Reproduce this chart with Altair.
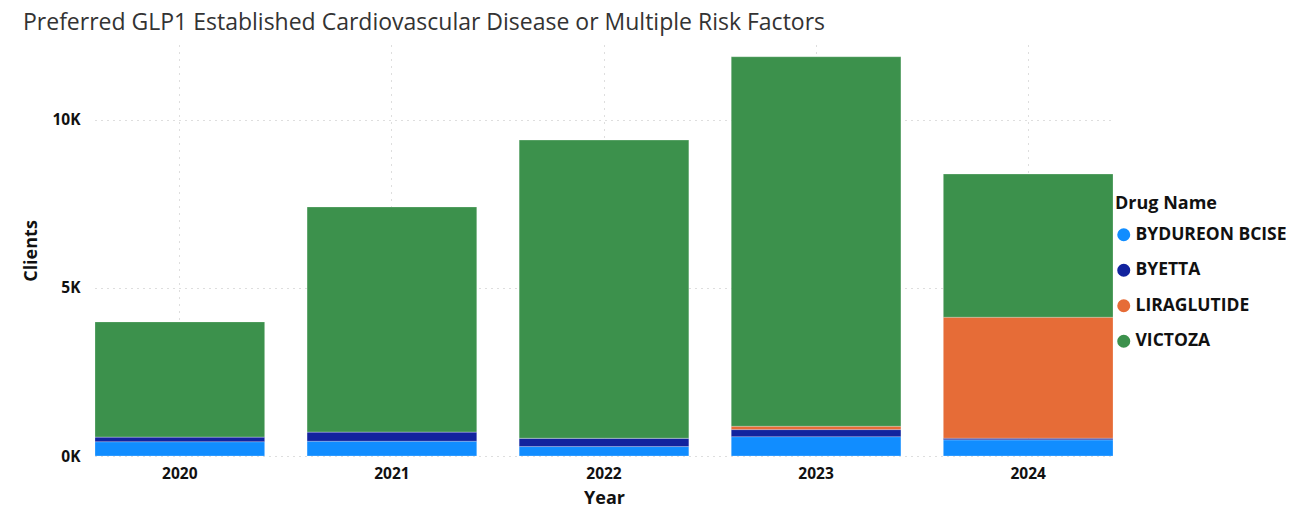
import altair as alt
import pandas as pd

years = ["2020", "2021", "2022", "2023", "2024"]
drugs = ["BYDUREON BCISE", "BYETTA", "LIRAGLUTIDE", "VICTOZA"]
colors = ["#118DFF", "#12239E", "#E66C37", "#3C914C"]

bydureon = [425, 440, 280, 575, 480]
byetta = [140, 275, 250, 210, 50]
liraglutide = [0, 0, 0, 100, 3600]
victoza = [3425, 6695, 8870, 10995, 4260]

series = {
    "BYDUREON BCISE": bydureon,
    "BYETTA": byetta,
    "LIRAGLUTIDE": liraglutide,
    "VICTOZA": victoza,
}

rows = []
for i, d in enumerate(drugs):
    for j, y in enumerate(years):
        rows.append({"Year": y, "Drug Name": d, "Clients": series[d][j], "ord": i})
df = pd.DataFrame(rows)

label_font = "Open Sans"

chart = (
    alt.Chart(df)
    .mark_bar(stroke="white", strokeWidth=0.4, strokeOpacity=0.6)
    .encode(
        x=alt.X(
            "Year:N",
            sort=years,
            scale=alt.Scale(paddingInner=0.2, paddingOuter=0),
            axis=alt.Axis(
                title="Year",
                labelAngle=0,
                labelFont=label_font,
                labelFontWeight="bold",
                labelFontSize=15.5,
                labelColor="#111111",
                labelPadding=10,
                titleFont=label_font,
                titleFontWeight="bold",
                titleFontSize=18,
                titleColor="#111111",
                titlePadding=8,
                domain=False,
                ticks=False,
                grid=True,
                bandPosition=0.5,
                gridDash=[1, 6],
                gridColor="#bdbdbd",
                gridWidth=1,
            ),
        ),
        y=alt.Y(
            "Clients:Q",
            stack="zero",
            scale=alt.Scale(domain=[0, 12230], nice=False),
            axis=alt.Axis(
                title="Clients",
                values=[0, 5000, 10000],
                labelExpr="format(datum.value / 1000, 'd') + 'K'",
                labelFont=label_font,
                labelFontWeight="bold",
                labelFontSize=15.5,
                labelColor="#111111",
                labelPadding=15,
                titleFont=label_font,
                titleFontWeight="bold",
                titleFontSize=18,
                titleColor="#111111",
                titlePadding=11,
                domain=False,
                ticks=False,
                grid=True,
                gridDash=[1, 5],
                gridColor="#bdbdbd",
                gridWidth=1,
            ),
        ),
        color=alt.Color(
            "Drug Name:N",
            sort=drugs,
            scale=alt.Scale(domain=drugs, range=colors),
            legend=alt.Legend(
                title="Drug Name",
                orient="none",
                legendX=1020,
                legendY=150,
                symbolType="circle",
                symbolSize=170,
                symbolStrokeWidth=0,
                titleFont=label_font,
                titleFontWeight="bold",
                titleFontSize=18,
                titleColor="#111111",
                titlePadding=13,
                labelFont=label_font,
                labelFontWeight="bold",
                labelFontSize=17.5,
                labelColor="#111111",
                labelOffset=3,
                rowPadding=16.5,
                symbolOffset=0,
            ),
        ),
        order=alt.Order("ord:Q", sort="ascending"),
    )
    .properties(
        width=1018,
        height=411,
        autosize=alt.AutoSizeParams(type="none"),
        padding={"left": 87, "top": 37, "right": 180, "bottom": 53},
        title=alt.TitleParams(
            "Preferred GLP1 Established Cardiovascular Disease or Multiple Risk Factors",
            anchor="start",
            frame="bounds",
            font="Open Sans",
            fontSize=23,
            fontWeight="normal",
            color="#333333",
            dx=0,
            dy=-6,
        ),
    )
    .configure_view(stroke=None)
)

chart.save("out.html", embed_options={"renderer": "svg", "actions": False})
